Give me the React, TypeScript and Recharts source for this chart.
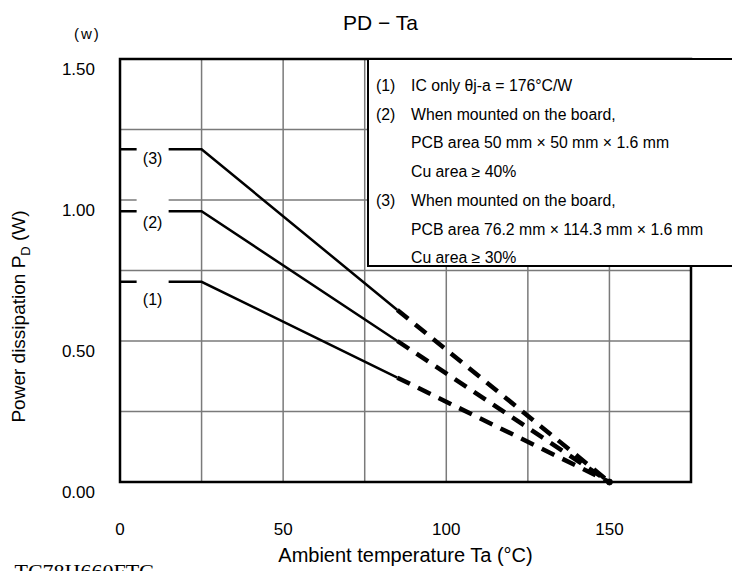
import { LineChart, Line, XAxis, YAxis, CartesianGrid, ReferenceDot, ReferenceArea } from "recharts";

// derating curves
const temps = [0, 25, 85, 150];
const curve1 = [0.71, 0.71, 0.37, 0];
const curve2 = [0.96, 0.96, 0.5, 0];
const curve3 = [1.18, 1.18, 0.61, 0];
const dashFrom = 85; // curves are dashed from here on

const xTicks = [0, 25, 50, 75, 100, 125, 150, 175];
const yTicks = [0, 0.25, 0.5, 0.75, 1, 1.25, 1.5];
const xLabels = [0, 50, 100, 150];
const yLabels = [0, 0.5, 1, 1.5];

const curveNames = ["(1)", "(2)", "(3)"];
const curveFlat = [curve1[0], curve2[0], curve3[0]];
const nameAt = 10; // °C, where the curve names sit

const legendLines = [
  { tag: "(1)", text: "IC only \u03b8j-a = 176\u00b0C/W" },
  { tag: "(2)", text: "When mounted on the board," },
  { tag: "", text: "PCB area 50 mm \u00d7 50 mm \u00d7 1.6 mm" },
  { tag: "", text: "Cu area \u2265 40%" },
  { tag: "(3)", text: "When mounted on the board," },
  { tag: "", text: "PCB area 76.2 mm \u00d7 114.3 mm \u00d7 1.6 mm" },
  { tag: "", text: "Cu area \u2265 30%" },
];

const data = temps.map((t, i) => ({
  t,
  s1: t <= dashFrom ? curve1[i] : null,
  s2: t <= dashFrom ? curve2[i] : null,
  s3: t <= dashFrom ? curve3[i] : null,
  d1: t >= dashFrom ? curve1[i] : null,
  d2: t >= dashFrom ? curve2[i] : null,
  d3: t >= dashFrom ? curve3[i] : null,
}));

const FONT = '"Liberation Sans", Arial, sans-serif';

// white box behind each curve name, cuts the lines like in the original
const boxTop = [-6, -16, -9];
const textDy = [18, 11, 9];

function XTick(props: any) {
  const { x, y, payload } = props;
  if (!xLabels.includes(payload.value)) return null;
  return (
    <text x={x} y={y + 45} dy="0.35em" textAnchor="middle" fontSize={17} fontFamily={FONT} fill="#000">
      {payload.value}
    </text>
  );
}

function YTick(props: any) {
  const { x, y, payload } = props;
  if (!yLabels.includes(payload.value)) return null;
  return (
    <text x={x - 23} y={y + 10} dy="0.35em" textAnchor="end" fontSize={17} fontFamily={FONT} fill="#000">
      {payload.value.toFixed(2)}
    </text>
  );
}

export default function App() {
  return (
    <div
      style={{
        position: "absolute",
        left: 0,
        top: 0,
        width: 732,
        height: 571,
        overflow: "hidden",
        background: "#fff",
        fontFamily: FONT,
      }}
    >
      <div style={{ position: "absolute", left: 343, top: 10, fontSize: 21, lineHeight: "26px", whiteSpace: "nowrap" }}>
        PD &minus; Ta
      </div>
      <div style={{ position: "absolute", left: 74, top: 25, fontSize: 15, letterSpacing: 2 }}>(w)</div>

      <LineChart width={732} height={571} data={data} margin={{ top: 59, right: 41, bottom: 0, left: 0 }}>
        <CartesianGrid stroke="#7a7a7a" strokeWidth={1.5} />
        <XAxis
          dataKey="t"
          type="number"
          domain={[0, 175]}
          ticks={xTicks}
          height={89}
          axisLine={false}
          tickLine={false}
          tickSize={0}
          tick={<XTick />}
          interval={0}
          label={{
            content: (p: any) => (
              <text
                x={p.viewBox.x + p.viewBox.width / 2}
                y={p.viewBox.y + 73}
                textAnchor="middle"
                dy="0.35em"
                fontSize={20}
                fontFamily={FONT}
                fill="#000"
              >
                Ambient temperature Ta (°C)
              </text>
            ),
          }}
        />
        <YAxis
          type="number"
          domain={[0, 1.5]}
          ticks={yTicks}
          width={120}
          axisLine={false}
          tickLine={false}
          tickSize={0}
          tick={<YTick />}
          interval={0}
          label={{
            content: (p: any) => {
              const cx = 18;
              const cy = p.viewBox.y + p.viewBox.height / 2 + 46;
              return (
                <text
                  x={cx}
                  y={cy}
                  transform={`rotate(-90 ${cx} ${cy})`}
                  textAnchor="middle"
                  dy="0.35em"
                  fontSize={19}
                  fontFamily={FONT}
                  fill="#000"
                >
                  Power dissipation P<tspan fontSize={13} dy="5">D</tspan>
                  <tspan dy="-5"> (W)</tspan>
                </text>
              );
            },
          }}
        />
        <ReferenceArea x1={0} x2={175} y1={0} y2={1.5} fill="none" stroke="#000" strokeWidth={2.5} ifOverflow="visible" />

        <Line type="linear" dataKey="s1" stroke="#000" strokeWidth={2.5} dot={false} isAnimationActive={false} />
        <Line type="linear" dataKey="s2" stroke="#000" strokeWidth={2.5} dot={false} isAnimationActive={false} />
        <Line type="linear" dataKey="s3" stroke="#000" strokeWidth={2.5} dot={false} isAnimationActive={false} />
        <Line type="linear" dataKey="d1" stroke="#000" strokeWidth={4.5} strokeDasharray="14 9" dot={false} isAnimationActive={false} />
        <Line type="linear" dataKey="d2" stroke="#000" strokeWidth={4.5} strokeDasharray="14 9" dot={false} isAnimationActive={false} />
        <Line type="linear" dataKey="d3" stroke="#000" strokeWidth={4.5} strokeDasharray="14 9" dot={false} isAnimationActive={false} />

        {curveNames.map((name, i) => (
          <ReferenceDot
            key={name}
            x={nameAt}
            y={curveFlat[i]}
            ifOverflow="visible"
            shape={(p: any) => (
              <g>
                <rect x={p.cx - 16} y={p.cy + boxTop[i]} width={32} height={40} fill="#fff" />
                <text x={p.cx} y={p.cy + textDy[i]} dy="0.35em" textAnchor="middle" fontSize={16} fontFamily={FONT} fill="#000">
                  {name}
                </text>
              </g>
            )}
          />
        ))}
        <ReferenceDot x={150} y={0} r={3} fill="#000" stroke="#000" ifOverflow="visible" />
      </LineChart>

      <div
        style={{
          position: "absolute",
          left: 367,
          top: 58,
          width: 400,
          height: 209,
          boxSizing: "border-box",
          border: "2.5px solid #000",
          background: "#fff",
          paddingTop: 12,
          paddingLeft: 7,
          fontSize: 15.8,
          lineHeight: "28.7px",
          whiteSpace: "nowrap",
        }}
      >
        {legendLines.map((l, i) => (
          <div key={i} style={{ display: "flex" }}>
            <span style={{ width: 35, flex: "none" }}>{l.tag}</span>
            <span>{l.text}</span>
          </div>
        ))}
      </div>

      <div
        style={{
          position: "absolute",
          right: 732 - 155,
          top: 559,
          fontFamily: '"Liberation Serif", "Times New Roman", serif',
          fontSize: 22,
          lineHeight: "26px",
          whiteSpace: "nowrap",
        }}
      >
        TC78H660FTG
      </div>
    </div>
  );
}
